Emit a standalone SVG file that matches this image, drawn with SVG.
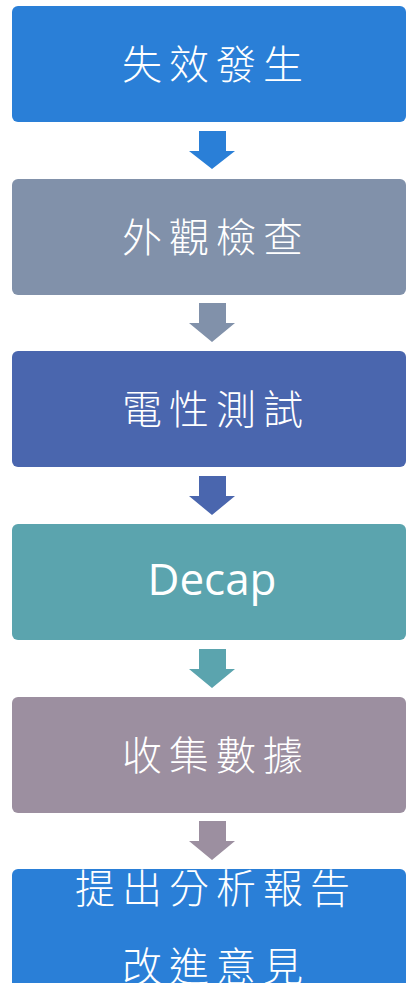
<svg xmlns="http://www.w3.org/2000/svg" width="406" height="983" viewBox="0 0 406 983">
<style>
.box{stroke:none}
.cjk{font-family:"Noto Sans CJK TC","Noto Sans CJK SC",sans-serif;font-size:40px;font-weight:300;fill:#ffffff;text-anchor:middle;letter-spacing:7px}
.lat{font-family:"Open Sans","Liberation Sans",sans-serif;font-size:44px;fill:#ffffff;text-anchor:middle}
</style>
<rect width="406" height="983" fill="#ffffff"/>
<g id="connectors">
<path d="M199,131 H226 V151 H235 L212,169 L189,151 H199 Z" fill="#2A7FD7"/>
<path d="M199,303 H226 V323 H235 L212,342 L189,323 H199 Z" fill="#8191AA"/>
<path d="M199,476 H226 V496 H235 L212,515 L189,496 H199 Z" fill="#4A66AE"/>
<path d="M199,649 H226 V669 H235 L212,688 L189,669 H199 Z" fill="#5BA4AE"/>
<path d="M199,821 H226 V841 H235 L212,860 L189,841 H199 Z" fill="#9C8FA0"/>
</g>
<g id="n1">
<rect class="box" x="12" y="6" width="394" height="116" rx="6" fill="#2A7FD7"/>
<text class="cjk" x="216" y="79">失效發生</text>
</g>
<g id="n2">
<rect class="box" x="12" y="179" width="394" height="116" rx="6" fill="#8191AA"/>
<text class="cjk" x="216" y="252">外觀檢查</text>
</g>
<g id="n3">
<rect class="box" x="12" y="351" width="394" height="116" rx="6" fill="#4A66AE"/>
<text class="cjk" x="216" y="424">電性測試</text>
</g>
<g id="n4">
<rect class="box" x="12" y="524" width="394" height="116" rx="6" fill="#5BA4AE"/>
<text class="lat" x="212" y="595">Decap</text>
</g>
<g id="n5">
<rect class="box" x="12" y="697" width="394" height="116" rx="6" fill="#9C8FA0"/>
<text class="cjk" x="216" y="770">收集數據</text>
</g>
<g id="n6">
<rect class="box" x="12" y="869" width="394" height="130" rx="6" fill="#2A7FD7"/>
<text class="cjk" x="216" y="903">提出分析報告</text>
<text class="cjk" x="216" y="981">改進意見</text>
</g>
</svg>
